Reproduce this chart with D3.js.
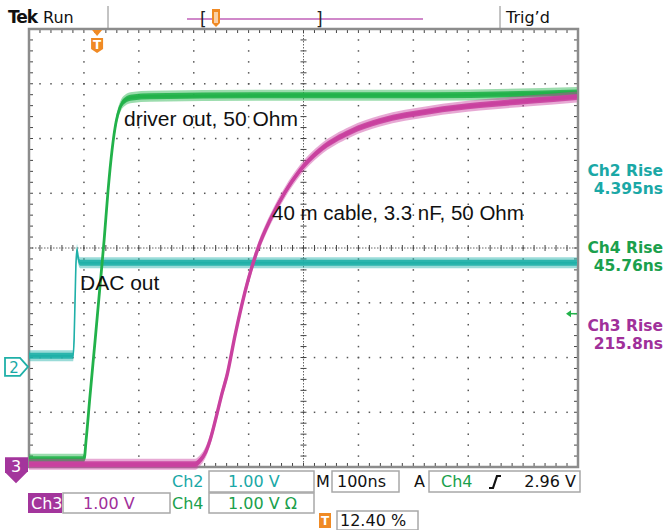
<!DOCTYPE html>
<html><head><meta charset="utf-8">
<script src="https://cdn.jsdelivr.net/npm/d3@7"></script>
<style>body{margin:0;background:#fff}svg{display:block}</style>
</head><body><svg id="c" width="665" height="530"></svg>
<script>
// ---------- data (time in ns, voltage in V) ----------
const ch2Time  = [-124, -43.7, -41.9, -40.1, -38.3, -36.4, -34.6, -31.0, 874];
const ch2Volts = [0.20, 0.20, 0.49, 1.22, 1.92, 2.14, 1.99, 1.90, 1.90];

const ch4Time  = [-124, -23.7, -20.0, -12.8, -3.6, 5.5, 12.8, 20.0, 27.3, 34.6, 41.9, 51.0, 63.8, 96.5, 369.8, 606.6, 874];
const ch4Volts = [0.09, 0.09, 0.44, 1.26, 2.26, 3.27, 4.09, 5.00, 5.74, 6.25, 6.52, 6.65, 6.70, 6.72, 6.74, 6.74, 6.79];

const ch3Time  = [-124, 178.5, 187.6, 196.7, 205.8, 218.6, 227.7, 236.8, 251.4, 275.0, 293.3, 315.1, 342.4, 369.8, 406.2, 460.8, 515.5, 606.6, 697.6, 788.7, 874];
const ch3Volts = [0.00, 0.00, 0.07, 0.20, 0.44, 0.93, 1.30, 1.63, 2.36, 3.36, 3.95, 4.46, 4.97, 5.37, 5.74, 6.07, 6.27, 6.45, 6.56, 6.64, 6.71];

const channelNames = ["Ch2", "Ch3", "Ch4"];
const channelScale = ["1.00 V", "1.00 V", "1.00 V Ω"];
const riseLabels = ["Ch2 Rise", "Ch4 Rise", "Ch3 Rise"];
const riseValues = ["4.395ns", "45.76ns", "215.8ns"];
const timeBase = "100ns";
const trigSource = "Ch4";
const trigLevel = "2.96 V";
const trigPos = "12.40 %";
const annotations = ["driver out, 50 Ohm", "40 m cable, 3.3 nF, 50 Ohm", "DAC out"];

// ---------- layout ----------
const svg = d3.select("#c");
const L = 29, R = 578, T = 29, B = 467;
const gx = d3.scaleLinear().domain([-5, 5]).range([L, R]);
const gy = d3.scaleLinear().domain([-4, 4]).range([B, T]);
const xT = d3.scaleLinear().domain([-124, 876]).range([L, R]);
const pos = {ch2: -2.17, ch3: -3.95, ch4: -3.95};
const yCh = p => v => gy(p + v);

const UI = "DejaVu Sans, Verdana, sans-serif";
const C_CYAN = "#1fb0a8", C_GREEN = "#22b24a", C_MAG = "#c9419f";
const T_CYAN = "#1aa8a6", T_GREEN = "#1ba04c", T_MAG = "#a0309a";

svg.append("rect").attr("x", L).attr("y", T).attr("width", R - L).attr("height", B - T).attr("fill", "#fff");

const grid = svg.append("g");
const step = 0.2;
for (let i = -4; i <= 4; i++) {
  if (i === 0) continue;
  for (let j = -4 + step; j < 4 - 1e-6; j += step) {
    grid.append("rect").attr("x", gx(i) - 0.7).attr("y", gy(j) - 0.7).attr("width", 1.5).attr("height", 1.5).attr("fill", "#555");
  }
}
for (let j = -3; j <= 3; j++) {
  if (j === 0) continue;
  for (let i = -5 + step; i < 5 - 1e-6; i += step) {
    grid.append("rect").attr("x", gx(i) - 0.7).attr("y", gy(j) - 0.7).attr("width", 1.5).attr("height", 1.5).attr("fill", "#555");
  }
}
grid.append("line").attr("x1", L).attr("x2", R).attr("y1", gy(0)).attr("y2", gy(0)).attr("stroke", "#666").attr("stroke-width", 1).attr("stroke-dasharray", "1.5,1.5");
grid.append("line").attr("y1", T).attr("y2", B).attr("x1", gx(0)).attr("x2", gx(0)).attr("stroke", "#666").attr("stroke-width", 1).attr("stroke-dasharray", "1.5,1.5");
for (let i = -5 + step; i < 5 - 1e-6; i += step) {
  grid.append("line").attr("x1", gx(i)).attr("x2", gx(i)).attr("y1", gy(0) - 3).attr("y2", gy(0) + 3).attr("stroke", "#444").attr("stroke-width", 1);
}
for (let j = -4 + step; j < 4 - 1e-6; j += step) {
  grid.append("line").attr("y1", gy(j)).attr("y2", gy(j)).attr("x1", gx(0) - 3).attr("x2", gx(0) + 3).attr("stroke", "#444").attr("stroke-width", 1);
}
for (let i = -5 + step; i < 5 - 1e-6; i += step) {
  grid.append("line").attr("x1", gx(i)).attr("x2", gx(i)).attr("y1", T).attr("y2", T + 4).attr("stroke", "#444");
  grid.append("line").attr("x1", gx(i)).attr("x2", gx(i)).attr("y1", B).attr("y2", B - 4).attr("stroke", "#444");
}
for (let j = -4 + step; j < 4 - 1e-6; j += step) {
  grid.append("line").attr("y1", gy(j)).attr("y2", gy(j)).attr("x1", L).attr("x2", L + 4).attr("stroke", "#444");
  grid.append("line").attr("y1", gy(j)).attr("y2", gy(j)).attr("x1", R).attr("x2", R - 4).attr("stroke", "#444");
}
svg.append("rect").attr("x", L).attr("y", T).attr("width", R - L).attr("height", B - T)
  .attr("fill", "none").attr("stroke", "#8c8c8c").attr("stroke-width", 2.5);

// ---------- traces ----------
function trace(times, volts, p, color, coreW) {
  const data = times.map((t, i) => [t, volts[i]]);
  const ys = yCh(p);
  const g = svg.append("g");
  const areaOuter = d3.area().x(d => xT(d[0])).y0(d => ys(d[1]) + 5.5).y1(d => ys(d[1]) - 5.5).curve(d3.curveMonotoneX);
  const areaInner = d3.area().x(d => xT(d[0])).y0(d => ys(d[1]) + 3).y1(d => ys(d[1]) - 3).curve(d3.curveMonotoneX);
  const line = d3.line().x(d => xT(d[0])).y(d => ys(d[1])).curve(d3.curveMonotoneX);
  g.append("path").attr("d", areaOuter(data)).attr("fill", color).attr("opacity", 0.45);
  g.append("path").attr("d", areaInner(data)).attr("fill", color).attr("opacity", 0.9);
  g.append("path").attr("d", line(data)).attr("fill", "none").attr("stroke", color).attr("stroke-width", coreW);
}
trace(ch2Time, ch2Volts, pos.ch2, C_CYAN, 1.6);
trace(ch4Time, ch4Volts, pos.ch4, C_GREEN, 2.8);
trace(ch3Time, ch3Volts, pos.ch3, C_MAG, 3.4);

// annotations
const AF = "Liberation Sans, Arial, sans-serif";
svg.append("text").attr("x", 124).attr("y", 126).text(annotations[0]).attr("font-family", AF).attr("font-size", 21).attr("fill", "#111");
svg.append("text").attr("x", 272).attr("y", 220).text(annotations[1]).attr("font-family", AF).attr("font-size", 20.5).attr("fill", "#111");
svg.append("text").attr("x", 80).attr("y", 290).text(annotations[2]).attr("font-family", AF).attr("font-size", 21).attr("fill", "#111");

// ---------- markers ----------
const tx = xT(0);
svg.append("path").attr("d", `M${tx-5},${T+1}L${tx+5},${T+1}L${tx},${T+7}Z`).attr("fill", "#f08a24");
svg.append("path").attr("d", `M${tx-6},${T+9}L${tx+6},${T+9}L${tx+6},${T+20}L${tx},${T+24}L${tx-6},${T+20}Z`).attr("fill", "#f08a24");
svg.append("text").attr("x", tx).attr("y", T + 20).attr("text-anchor", "middle").text("T").attr("font-family", UI).attr("font-size", 12).attr("font-weight", "bold").attr("fill", "#fff");

const g2 = yCh(pos.ch2)(0);
svg.append("path").attr("d", `M5,${g2-9}L20,${g2-9}L28,${g2}L20,${g2+9}L5,${g2+9}Z`).attr("fill", "#fff").attr("stroke", C_CYAN).attr("stroke-width", 1.8);
svg.append("text").attr("x", 14).attr("y", g2 + 6).attr("text-anchor", "middle").text("2").attr("font-family", UI).attr("font-size", 15).attr("fill", T_CYAN);
const g3 = yCh(pos.ch3)(0);
svg.append("path").attr("d", `M5,${g3-7}L28,${g3-7}L28,${g3+7}L16,${g3+19}L5,${g3+8}Z`).attr("fill", "#a3359c");
svg.append("text").attr("x", 16).attr("y", g3 + 8).attr("text-anchor", "middle").text("3").attr("font-family", UI).attr("font-size", 16).attr("fill", "#fff");
const ta = gy(-1.2);
svg.append("path").attr("d", `M566,${ta}L571,${ta-3.5}L571,${ta+3.5}Z`).attr("fill", C_GREEN);
svg.append("line").attr("x1", 570).attr("x2", 577).attr("y1", ta).attr("y2", ta).attr("stroke", C_GREEN).attr("stroke-width", 1.5);

// ---------- right side readouts ----------
const riseColors = [T_CYAN, T_GREEN, T_MAG];
const riseY = [176, 253, 331];
riseLabels.forEach((lab, i) => {
  svg.append("text").attr("x", 663).attr("y", riseY[i]).attr("text-anchor", "end").text(lab)
    .attr("font-family", UI).attr("font-size", 15.5).attr("font-weight", 600).attr("fill", riseColors[i]);
  svg.append("text").attr("x", 663).attr("y", riseY[i] + 18).attr("text-anchor", "end").text(riseValues[i])
    .attr("font-family", UI).attr("font-size", 15.5).attr("font-weight", 600).attr("fill", riseColors[i]);
});

// ---------- top bar ----------
svg.append("text").attr("x", 8).attr("y", 23).text("Tek").attr("font-family", UI).attr("font-size", 17).attr("font-weight", "bold").attr("letter-spacing", -1).attr("fill", "#111");
svg.append("text").attr("x", 43).attr("y", 23).text("Run").attr("font-family", UI).attr("font-size", 16).attr("fill", "#111");
svg.append("line").attr("x1", 108).attr("x2", 108).attr("y1", 6).attr("y2", 28).attr("stroke", "#888").attr("stroke-width", 1);
svg.append("line").attr("x1", 500).attr("x2", 500).attr("y1", 6).attr("y2", 28).attr("stroke", "#888").attr("stroke-width", 1);
svg.append("text").attr("x", 506).attr("y", 23).text("Trig’d").attr("font-family", UI).attr("font-size", 16).attr("fill", "#111");
svg.append("line").attr("x1", 187).attr("x2", 423).attr("y1", 19).attr("y2", 19).attr("stroke", "#c060b8").attr("stroke-width", 1.5);
svg.append("text").attr("x", 200).attr("y", 25).text("[").attr("font-family", UI).attr("font-size", 17).attr("fill", "#222");
svg.append("text").attr("x", 316).attr("y", 25).text("]").attr("font-family", UI).attr("font-size", 17).attr("fill", "#222");
svg.append("path").attr("d", "M212,9L220,9L220,23L216,27L212,23Z").attr("fill", "#f08a24");
svg.append("rect").attr("x", 214).attr("y", 12).attr("width", 4).attr("height", 11).attr("fill", "#fff").attr("opacity", 0.6);

// ---------- bottom readouts ----------
function box(x, y, w, h) {
  svg.append("rect").attr("x", x).attr("y", y).attr("width", w).attr("height", h).attr("fill", "#fff").attr("stroke", "#a8a8a8").attr("stroke-width", 1.5);
}
function txt(x, y, s, color, anchor) {
  svg.append("text").attr("x", x).attr("y", y).text(s).attr("font-family", UI).attr("font-size", 16)
    .attr("fill", color).attr("text-anchor", anchor || "start");
}
txt(172, 487, channelNames[0], T_CYAN);
box(209, 471, 105, 21); txt(228, 487, channelScale[0], T_CYAN);
txt(316, 487, "M", "#111");
box(332, 471, 67, 21); txt(337, 487, timeBase, "#111");
txt(414, 487, "A", "#111");
box(429, 471, 151, 21); txt(441, 487, trigSource, T_GREEN);
svg.append("path").attr("d", "M489,488L493,488L497,476L501,476").attr("fill", "none").attr("stroke", "#111").attr("stroke-width", 2.2);
txt(576, 487, trigLevel, "#111", "end");
svg.append("rect").attr("x", 28).attr("y", 493).attr("width", 34).attr("height", 20).attr("fill", "#a3359c");
txt(31, 509, channelNames[1], "#fff");
box(63, 493, 107, 20); txt(83, 509, channelScale[1], T_MAG);
txt(172, 509, channelNames[2], T_GREEN);
box(209, 493, 105, 20); txt(228, 509, channelScale[2], T_GREEN);
svg.append("rect").attr("x", 319).attr("y", 513).attr("width", 12).attr("height", 15).attr("fill", "#f08a24");
svg.append("text").attr("x", 325).attr("y", 525).attr("text-anchor", "middle").text("T").attr("font-family", UI).attr("font-size", 12).attr("font-weight", "bold").attr("fill", "#fff");
box(337, 511, 81, 19); txt(340, 526, trigPos, "#111");
</script></body></html>
